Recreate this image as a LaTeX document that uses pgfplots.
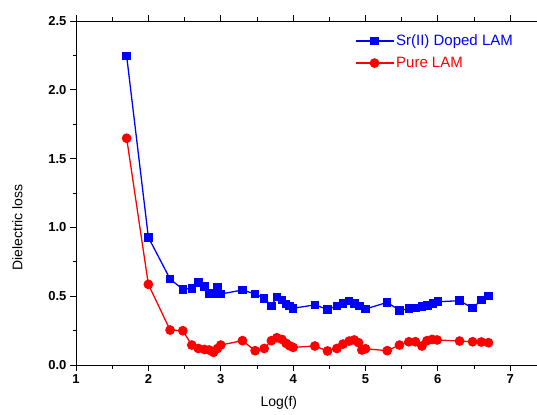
\documentclass[border=0pt]{standalone}
\usepackage{pgfplots}
\pgfplotsset{compat=1.18}
\usepackage{fontspec}
\setmainfont{Liberation Sans}

\begin{document}
\begin{tikzpicture}
\begin{axis}[
    scale only axis,
    width=461bp, height=344bp,
    xmin=1, xmax=7.37,
    ymin=0, ymax=2.5,
    axis x line*=box, axis y line*=left,
    xtick={1,2,3,4,5,6,7}, ytick={0,0.5,1,1.5,2,2.5},
    minor x tick num=1, minor y tick num=1,
    tick align=outside,
    major tick length=6bp, minor tick length=3.5bp,
    every tick/.style={black, line width=0.8pt},
    axis line style={line width=1pt},
    /pgf/number format/assume math mode=true,
    yticklabel style={/pgf/number format/.cd, fixed, fixed zerofill, precision=1},
    ticklabel style={font=\fontsize{13bp}{15bp}\selectfont\bfseries},
    xlabel={Log(f)}, ylabel={Dielectric loss},
    label style={font=\fontsize{14bp}{16bp}\selectfont},
    xlabel style={at={(axis description cs:0.44,-0.09)}, anchor=north, inner sep=0pt},
    ylabel style={at={(axis description cs:-0.127,0.40)}, anchor=center, inner sep=0pt},
    legend style={at={(0.598,0.972)}, anchor=north west, draw=none, fill=none,
        font=\fontsize{15bp}{17bp}\selectfont, row sep=6bp},
    legend image code/.code={\draw[mark repeat=2,mark phase=2,#1]
        plot coordinates {(0bp,0bp)(19bp,0bp)(38bp,0bp)};},
    legend cell align=left,
]
\addplot[color=blue, line width=1.3pt, mark=square*, mark size=3.6bp] coordinates {
(1.70,2.245)(2.00,0.928)(2.30,0.625)(2.476,0.55)(2.60,0.557)(2.69,0.60)(2.775,0.569)
(2.84,0.52)(2.90,0.516)(2.955,0.564)(2.97,0.516)(3.00,0.516)(3.30,0.545)(3.475,0.516)
(3.60,0.485)(3.70,0.43)(3.775,0.496)(3.845,0.472)(3.905,0.443)(3.95,0.43)(3.997,0.412)
(4.30,0.437)(4.475,0.404)(4.605,0.429)(4.69,0.448)(4.775,0.465)(4.845,0.448)(4.92,0.429)
(5.00,0.407)(5.30,0.455)(5.47,0.397)(5.60,0.409)(5.69,0.414)(5.78,0.424)(5.86,0.433)
(5.93,0.448)(6.00,0.46)(6.30,0.467)(6.48,0.414)(6.60,0.472)(6.70,0.50)};
\addplot[color=red, line width=1.3pt, mark=*, mark size=4.2bp] coordinates {
(1.70,1.648)(2.00,0.586)(2.30,0.254)(2.476,0.249)(2.60,0.145)(2.69,0.12)(2.775,0.113)
(2.84,0.109)(2.90,0.092)(2.955,0.12)(3.00,0.145)(3.30,0.177)(3.475,0.104)(3.60,0.12)
(3.70,0.177)(3.775,0.198)(3.845,0.186)(3.905,0.157)(3.95,0.14)(4.00,0.128)(4.30,0.138)
(4.475,0.102)(4.605,0.12)(4.69,0.152)(4.775,0.174)(4.845,0.182)(4.905,0.162)(4.95,0.109)
(5.00,0.118)(5.30,0.104)(5.47,0.145)(5.60,0.169)(5.69,0.169)(5.78,0.138)(5.85,0.177)
(5.92,0.186)(5.99,0.182)(6.30,0.174)(6.48,0.169)(6.60,0.167)(6.70,0.162)};
\legend{\textcolor{blue}{Sr(II) Doped LAM}, \textcolor{red}{Pure LAM}}
\end{axis}
\pgfresetboundingbox
\path ([xshift=-76bp,yshift=-50bp]current axis.south west) rectangle ([yshift=21bp]current axis.north east);
\end{tikzpicture}
\end{document}
